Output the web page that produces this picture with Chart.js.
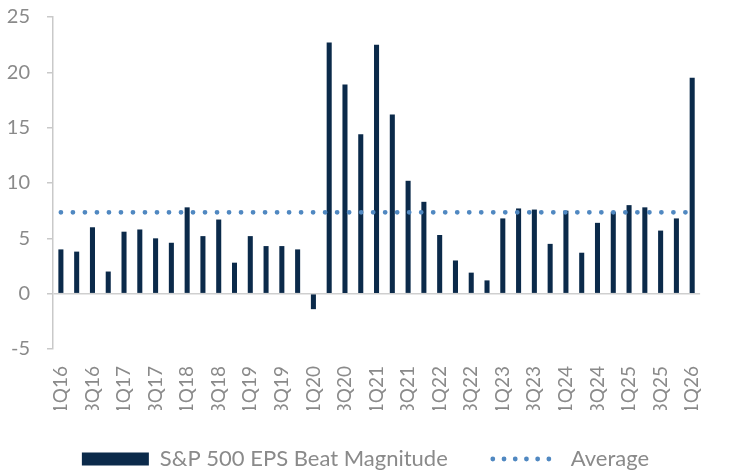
<!DOCTYPE html>
<html>
<head>
<meta charset="utf-8">
<script src="https://cdn.jsdelivr.net/npm/chart.js@4/dist/chart.umd.min.js"></script>
<style>
html,body{margin:0;padding:0;background:#fff;}
#wrap{width:732px;height:471px;position:relative;}
</style>
</head>
<body>
<div id="wrap"><canvas id="c" width="732" height="471"></canvas></div>
<script>
const categories = ['1Q16','2Q16','3Q16','4Q16','1Q17','2Q17','3Q17','4Q17','1Q18','2Q18','3Q18','4Q18',
  '1Q19','2Q19','3Q19','4Q19','1Q20','2Q20','3Q20','4Q20','1Q21','2Q21','3Q21','4Q21',
  '1Q22','2Q22','3Q22','4Q22','1Q23','2Q23','3Q23','4Q23','1Q24','2Q24','3Q24','4Q24',
  '1Q25','2Q25','3Q25','4Q25','1Q26'];
const beatMagnitude = [4.0,3.8,6.0,2.0,5.6,5.8,5.0,4.6,7.8,5.2,6.7,2.8,
  5.2,4.3,4.3,4.0,-1.4,22.7,18.9,14.4,22.5,16.2,10.2,8.3,
  5.3,3.0,1.9,1.2,6.8,7.7,7.6,4.5,7.5,3.7,6.4,7.4,
  8.0,7.8,5.7,6.8,19.5];
const average = [7.35,7.35,7.35,7.35,7.35,7.35,7.35,7.35,7.35,7.35,7.35,7.35,
  7.35,7.35,7.35,7.35,7.35,7.35,7.35,7.35,7.35,7.35,7.35,7.35,
  7.35,7.35,7.35,7.35,7.35,7.35,7.35,7.35,7.35,7.35,7.35,7.35,
  7.35,7.35,7.35,7.35,7.35];
const yTicks = [-5,0,5,10,15,20,25];
const seriesNames = ['S&P 500 EPS Beat Magnitude','Average'];

const NAVY = '#0b2a4a';
const DOT = '#5088c1';
const GREY_TXT = '#8a8a8a';
const GREY_LINE = '#c9c9c9';
const FONT = 'Lato';

const legendHeightPlugin = {
  id: 'legendHeight',
  beforeLayout(chart) {
    const lg = chart.legend;
    if (lg && !lg._patched) {
      const origFit = lg.fit;
      lg.fit = function() { origFit.call(this); this.height = 61; };
      const origDraw = lg.draw;
      lg.draw = function() {
        const t = this.top;
        this.top = t - 7;
        origDraw.call(this);
        this.top = t;
      };
      lg._patched = true;
    }
  }
};

new Chart(document.getElementById('c'), {
  plugins: [legendHeightPlugin],
  data: {
    labels: categories,
    datasets: [
      {
        type: 'line',
        label: seriesNames[1],
        data: average,
        borderColor: DOT,
        borderWidth: 4.8,
        borderDash: [0.01, 12],
        borderCapStyle: 'round',
        pointRadius: 0,
        fill: false,
        order: 0
      },
      {
        type: 'bar',
        label: seriesNames[0],
        data: beatMagnitude,
        backgroundColor: NAVY,
        barPercentage: 0.32,
        categoryPercentage: 1.0,
        order: 1
      }
    ]
  },
  options: {
    responsive: false,
    animation: false,
    devicePixelRatio: 1,
    layout: { padding: { left: 0, right: 1, top: 17, bottom: 0 } },
    plugins: {
      tooltip: { enabled: false },
      legend: {
        position: 'bottom',
        labels: {
          usePointStyle: true,
          pointStyleWidth: 67,
          boxHeight: 13,
          padding: 45,
          color: GREY_TXT,
          font: { family: FONT, size: 22 },
          generateLabels: function(chart) {
            return [
              { text: seriesNames[0], pointStyle: 'rect', fillStyle: NAVY, strokeStyle: NAVY, lineWidth: 0, datasetIndex: 1, fontColor: GREY_TXT },
              { text: seriesNames[1], pointStyle: 'line', fillStyle: DOT, strokeStyle: DOT, lineWidth: 4.8, lineDash: [0.01, 11.2], lineCap: 'round', datasetIndex: 0, fontColor: GREY_TXT }
            ];
          }
        }
      }
    },
    scales: {
      x: {
        offset: true,
        border: { display: false },
        grid: { display: false, drawTicks: false },
        afterFit: function(s) { s.height = 61; },
        ticks: {
          autoSkip: false,
          maxRotation: 90,
          minRotation: 90,
          padding: 17,
          color: GREY_TXT,
          font: { family: FONT, size: 19 },
          callback: function(v, i) { return i % 2 === 0 ? categories[i] : ''; }
        }
      },
      y: {
        min: yTicks[0],
        max: yTicks[yTicks.length - 1],
        afterBuildTicks: function(s) { s.ticks = yTicks.map(v => ({ value: v })); },
        afterFit: function(s) { s.width = 53; s.paddingTop = 0; s.paddingBottom = 0; },
        border: { display: true, color: GREY_LINE, width: 1.5 },
        grid: {
          drawTicks: true,
          tickLength: 6,
          tickColor: GREY_LINE,
          lineWidth: 1.5,
          color: function(ctx) { return ctx.tick && ctx.tick.value === 0 ? '#cfcfcf' : 'rgba(0,0,0,0)'; }
        },
        ticks: {
          padding: 17,
          color: GREY_TXT,
          font: { family: FONT, size: 20 }
        }
      }
    }
  }
});
</script>
</body>
</html>
